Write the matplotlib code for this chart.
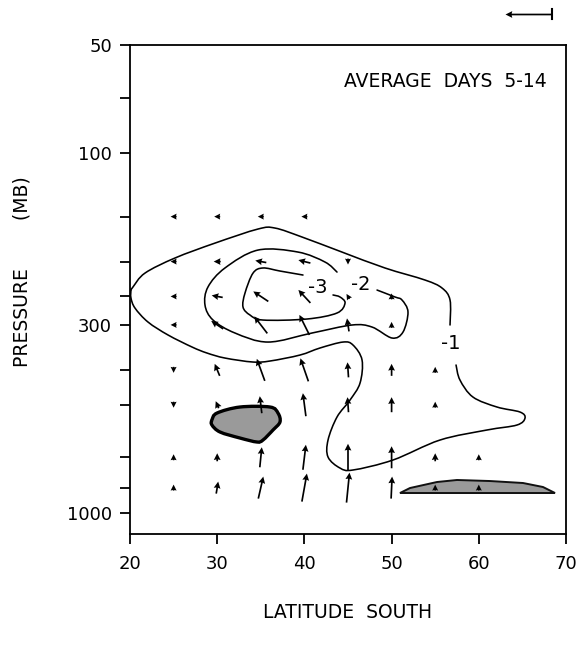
import numpy as np
import matplotlib
matplotlib.use("Agg")
import matplotlib.pyplot as plt
from matplotlib.lines import Line2D
from matplotlib.path import Path
from matplotlib.patches import PathPatch

# ---------------- data ----------------
lats = [25, 30, 35, 40, 45, 50, 55, 60]
levels = [150, 200, 250, 300, 400, 500, 700, 850]
nan = np.nan
# meridional component (positive = poleward), arbitrary units
U = [
    [-6, -6, -6, -6, nan, nan, nan, nan],
    [-6, -7, -11, -12, 0, nan, nan, nan],
    [-6, -11, -15, -12, -3, 0, nan, nan],
    [-6, -12, -13, -10, -2, 0, nan, nan],
    [0, -5, -8, -8, -1, 0, 0, nan],
    [0, -3, -2, -3, -1, 0, 0, nan],
    [0, 0, 2, 3, 0, 0, 0, 0],
    [0, 2, 5, 5, 3, 1, 0, 0],
]
# vertical component (positive = upward), arbitrary units
V = [
    [0, 0, 0, 0, nan, nan, nan, nan],
    [0, 0, 2, 3, -6, nan, nan, nan],
    [0, 2, 10, 13, 5, 6, nan, nan],
    [0, 8, 17, 20, 13, 6, nan, nan],
    [-6, 12, 22, 23, 15, 12, 6, nan],
    [-6, 7, 17, 23, 15, 15, 6, nan],
    [6, 8, 20, 25, 27, 22, 8, 6],
    [6, 12, 22, 28, 30, 22, 6, 6],
]
ref_vector = 47

# contour -1 (two pieces separated by the label)
c1a_lat = [20.11, 20.34, 21.72, 25.16, 29.75, 34.68, 36.63, 39.72, 44.31,
           49.24, 53.83, 55.78, 56.70, 56.70]
c1a_p = [240, 235.4, 215.3, 195.5, 177.7, 162.4, 161.4, 170.9, 188.2,
         208.4, 225.1, 236.9, 255.8, 300.2]
c1b_lat = [57.39, 57.84, 59.33, 62.09, 64.72, 65.30, 64.38, 60.94, 55.55,
           50.16, 45.57, 44.08, 42.71, 42.71, 43.74, 45.23, 46.38, 46.61,
           45.57, 44.43, 41.79, 39.50, 36.06, 34.11, 30.89, 28.83, 27.11,
           24.36, 22.06, 20.57, 20.11, 20.11]
c1b_p = [387.8, 426.9, 476.1, 507.5, 524, 544.5, 569.4, 587.9, 626.9,
         712.4, 759.5, 749.9, 698.9, 626.9, 541, 485.3, 435.3, 375.6,
         341.2, 334.8, 347.8, 363.8, 378, 380.5, 370.9, 359.2, 345.6,
         320, 294.5, 269.3, 252.5, 240]
# contour -2
c2_lat = [43.74, 42.36, 39.27, 34.68, 30.89, 28.94, 28.60, 29.52, 32.04,
          35.83, 40.87, 45.46, 47.75, 50.05, 51.31, 51.88, 51.19, 50.39, 48.33]
c2_p = [213.9, 200.6, 188.2, 185.8, 208.4, 235.4, 264.2, 290.8, 316,
        334.8, 316, 300.2, 304.1, 326.3, 314, 276.3, 255.8, 250.9, 240]
# contour -3
c3_lat = [39.84, 37.20, 35.25, 34.11, 33.19, 32.96, 33.76, 35.25, 40.30,
          43.74, 44.66, 44.08, 43.28]
c3_p = [218, 212.5, 208.4, 215.3, 244.6, 267.6, 281.6, 290.8, 288.9,
        278, 260.8, 250.9, 247.7]
labels_txt = ["-1", "-2", "-3"]
labels_lat = [56.81, 46.49, 41.56]
labels_p = [337, 231, 235.4]

# shaded regions
s1_lat = [29.4, 29.98, 32.61, 36.06, 36.97, 37.2, 36.4, 35.25, 34.56,
          32.61, 30.32, 29.4]
s1_p = [551.4, 527.4, 507.5, 507.5, 527.4, 558.5, 587.9, 626.9, 634.9,
        618.9, 595.5, 569.4]
s2_lat = [50.96, 52.11, 55.21, 57.5, 61.28, 65.07, 67.36, 68.74]
s2_p = [880, 852.3, 820.1, 809.6, 815, 825.4, 846.8, 880]

xticks = [20, 30, 40, 50, 60, 70]
yticks = [50, 70, 100, 150, 200, 250, 300, 400, 500, 700, 850, 1000]
ytick_labels = ["50", "", "100", "", "", "", "300", "", "", "", "", "1000"]


def smooth_path(lat, p, closed=False):
    """Catmull-Rom curve through the points, built in (lat, log p) space."""
    pts = np.column_stack([np.asarray(lat, float), np.log10(np.asarray(p, float))])
    if closed:
        pts = np.vstack([pts, pts[:1]])
    n = len(pts)
    verts = [pts[0]]
    codes = [Path.MOVETO]
    for i in range(n - 1):
        if i > 0:
            p0 = pts[i - 1]
        else:
            p0 = pts[-2] if closed else pts[0]
        p1, p2 = pts[i], pts[i + 1]
        if i + 2 < n:
            p3 = pts[i + 2]
        else:
            p3 = pts[1] if closed else pts[i + 1]
        verts += [p1 + (p2 - p0) / 6.0, p2 - (p3 - p1) / 6.0, p2]
        codes += [Path.CURVE4] * 3
    verts = np.array(verts)
    verts[:, 1] = 10 ** verts[:, 1]
    return Path(verts, codes)


# ---------------- figure ----------------
plt.rcParams['font.family'] = ['DejaVu Sans']
fig = plt.figure(figsize=(5.8, 6.49), dpi=100)
ax = fig.add_axes([130/580, 1-534/649, 436/580, 489/649])

ax.set_yscale('log')
ax.set_xlim(20, 70)
ax.set_ylim(1144, 50)

# shaded areas
ax.add_patch(PathPatch(smooth_path(s1_lat, s1_p, closed=True), facecolor='#9a9a9a',
                       edgecolor='black', lw=2.4, zorder=2))
ax.fill(s2_lat, s2_p, facecolor='#9a9a9a', edgecolor='#111111', lw=1.4, zorder=2)

# contours
for la, pr in [(c1a_lat, c1a_p), (c1b_lat, c1b_p), (c2_lat, c2_p), (c3_lat, c3_p)]:
    ax.add_patch(PathPatch(smooth_path(la, pr), fill=False, edgecolor='black',
                           lw=1.15, capstyle='round', joinstyle='round', zorder=3))
for t, x, y in zip(labels_txt, labels_lat, labels_p):
    ax.text(x, y, t, ha='center', va='center', fontsize=14, zorder=4)

# arrows
LAT, LEV = np.meshgrid(lats, levels)
Um = np.ma.masked_invalid(np.array(U, float))
Vm = np.ma.masked_invalid(np.array(V, float))
Q = ax.quiver(LAT, LEV, Um, Vm, angles='uv', scale_units='dots', scale=1,
              units='dots', width=1.7, headwidth=4.0, headlength=4.0,
              headaxislength=3.6, minshaft=1, minlength=0.1, pivot='middle',
              color='black', zorder=5)
ax.quiverkey(Q, 505/580, 1-14/649, ref_vector, '', angle=180,
             coordinates='figure', labelpos='E', color='black')
fig.add_artist(Line2D([552/580, 552/580], [1-9/649, 1-19/649],
                      transform=fig.transFigure, color='black', lw=1.5))

ax.text(0.955, 0.925, "AVERAGE  DAYS  5-14", transform=ax.transAxes,
        ha='right', va='center', fontsize=13.5)

# axes styling
ax.set_xticks(xticks)
ax.set_yticks(yticks)
ax.set_yticklabels(ytick_labels)
ax.yaxis.set_minor_locator(matplotlib.ticker.NullLocator())
ax.tick_params(axis='both', direction='out', length=7, width=1.3,
               labelsize=13, pad=8)
ax.tick_params(axis='y', pad=6)
for s in ax.spines.values():
    s.set_linewidth(1.3)

ax.set_xlabel("LATITUDE  SOUTH", fontsize=13.5, labelpad=22)
fig.text(22/580, 1-272/649, "PRESSURE        (MB)", rotation=90, ha='center',
         va='center', fontsize=13.5)

fig.savefig("out.png", dpi=100)
